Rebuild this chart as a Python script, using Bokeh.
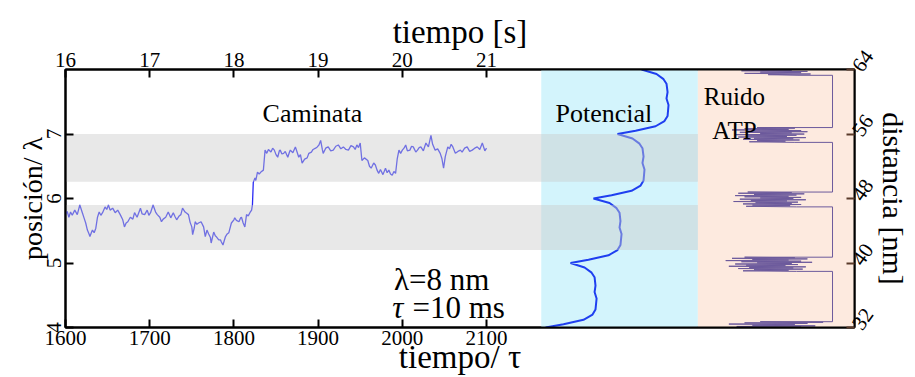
from bokeh.plotting import figure
from bokeh.models import Range1d, LinearAxis, FixedTicker
from bokeh.core.properties import value
from bokeh.embed import file_html
from bokeh.resources import INLINE
import numpy as np

SERIF = "Liberation Serif"

# ---------------- data ----------------
# walk trajectory: time (tau units) and position (lambda units)
tau = [1600,1602,1604,1606,1608,1611,1614,1617,1620,1622,
       1624,1626,1628,1629,1631,1632,1634,1636,1638,1640,
       1642,1644,1647,1649,1651,1653,1656,1659,1662,1665,
       1668,1670,1672,1674,1677,1680,1682,1685,1689,1691,
       1694,1697,1699,1701,1704,1707,1709,1712,1714,1716,
       1719,1722,1725,1728,1730,1732,1735,1737,1739,1742,
       1744,1746,1748,1750,1751,1753,1754,1756,1758,1761,
       1764,1766,1768,1770,1772,1773,1776,1778,1779,1782,
       1784,1785,1787,1790,1792,1794,1797,1800,1801,1803,
       1806,1808,1809,1811,1813,1815,1817,1819,1821,1822,
       1823,1825,1826,1828,1830,1832,1835,1837,1839,1841,
       1844,1846,1848,1850,1852,1854,1855,1857,1859,1861,
       1864,1866,1867,1870,1873,1875,1877,1879,1881,1884,
       1887,1889,1892,1894,1897,1899,1901,1903,1905,1906,
       1909,1912,1915,1918,1921,1924,1927,1930,1933,1936,
       1939,1942,1944,1946,1948,1950,1952,1955,1959,1961,
       1963,1966,1968,1970,1972,1974,1977,1980,1982,1984,
       1986,1988,1990,1992,1994,1996,1998,2000,2002,2004,
       2006,2009,2011,2013,2016,2018,2020,2022,2025,2028,
       2031,2034,2036,2039,2042,2045,2047,2049,2051,2054,
       2056,2058,2060,2063,2066,2069,2071,2074,2077,2080,
       2083,2086,2089,2092,2095,2098,2100]
pos = [5.75,5.80,5.71,5.79,5.74,5.82,5.75,5.90,5.78,5.70,
       5.62,5.51,5.45,5.41,5.48,5.51,5.47,5.54,5.71,5.79,
       5.74,5.78,5.87,5.83,5.90,5.82,5.85,5.78,5.82,5.75,
       5.67,5.56,5.62,5.64,5.71,5.68,5.78,5.71,5.85,5.76,
       5.75,5.82,5.74,5.78,5.90,5.79,5.75,5.71,5.64,5.68,
       5.71,5.79,5.70,5.78,5.72,5.67,5.73,5.75,5.85,5.79,
       5.77,5.75,5.63,5.56,5.44,5.55,5.64,5.60,5.62,5.64,
       5.56,5.41,5.51,5.45,5.40,5.31,5.48,5.42,5.41,5.36,
       5.36,5.33,5.28,5.41,5.45,5.47,5.62,5.67,5.70,5.66,
       5.64,5.70,5.71,5.62,5.56,5.75,5.73,5.78,5.82,5.90,
       6.25,6.32,6.28,6.41,6.38,6.41,6.44,6.75,6.70,6.76,
       6.72,6.78,6.75,6.68,6.64,6.74,6.75,6.69,6.70,6.73,
       6.64,6.72,6.75,6.71,6.80,6.72,6.64,6.68,6.55,6.61,
       6.63,6.70,6.72,6.76,6.78,6.80,6.83,6.90,6.76,6.70,
       6.78,6.80,6.74,6.75,6.81,6.83,6.77,6.80,6.76,6.75,
       6.82,6.80,6.76,6.83,6.79,6.86,6.59,6.63,6.59,6.50,
       6.47,6.55,6.52,6.44,6.39,6.45,6.37,6.47,6.40,6.44,
       6.38,6.36,6.42,6.39,6.62,6.75,6.70,6.75,6.78,6.83,
       6.74,6.75,6.81,6.80,6.72,6.75,6.79,6.80,6.74,6.86,
       6.80,6.98,6.84,6.75,6.77,6.70,6.62,6.47,6.65,6.80,
       6.77,6.84,6.80,6.70,6.73,6.75,6.72,6.78,6.80,6.73,
       6.75,6.78,6.80,6.76,6.86,6.74,6.78]

# tilted periodic potential: position (lambda) and energy (arb. units)
pot_y = [4.00,4.05,4.12,4.20,4.28,4.45,4.55,4.65,4.78,4.85,4.93,
         5.00,5.05,5.12,5.20,5.28,5.45,5.55,5.65,5.78,5.85,5.93,
         6.00,6.05,6.12,6.20,6.28,6.45,6.55,6.65,6.78,6.85,6.93,
         7.00,7.05,7.12,7.20,7.28,7.45,7.55,7.65,7.78,7.85,7.93,
         8.00]
pot_u = [2.6,14.1,26.9,32.7,34.6,35.3,34.0,34.6,34.0,32.1,27.6,
         18.6,30.1,42.9,48.7,50.6,51.3,50.0,50.6,50.0,48.1,43.6,
         33.3,44.9,57.7,63.5,65.4,66.0,64.7,65.4,64.7,62.8,58.3,
         48.7,60.3,73.1,78.8,80.8,81.4,80.1,80.8,80.1,78.2,73.7,
         64.1]

# ATP noise bursts (amplitude, arb. units) at each site, top to bottom
burst_top = [8.00, 7.10, 6.10, 5.09, 4.09]
burst_bot = [7.91, 6.87, 5.87, 4.87, 3.97]
burst_amp = [
    [35, 60, 28, 70, 40, 66, 30, 72, 45, 64],
    [38, 62, 30, 58, 22, 66, 34, 70, 27, 60, 40, 68, 24, 63, 32, 57, 26, 69, 36, 61, 29, 65, 38, 56, 33, 62],
    [32, 60, 26, 68, 36, 63, 24, 58, 30, 66, 40, 61, 27, 69, 34, 57, 23, 64, 37, 60, 29, 66, 35, 59, 31, 63],
    [30, 62, 22, 70, 35, 58, 18, 66, 28, 73, 38, 60, 24, 64, 31, 56, 20, 69, 33, 61, 26, 67, 36, 58, 29, 63],
    [40, 80, 30, 70, 20, 62, 35, 75, 25, 66, 16, 58, 38, 72],
]
atp_rest = 86  # level of the trace between bursts

# panels and bands
pot_panel = [2165, 2351]
atp_panel = [2351, 2537]
band_bottom = [5.20, 6.26]
band_top = [5.90, 7.00]

tau_ticks = [1600, 1700, 1800, 1900, 2000, 2100]
sec_ticks = [16, 17, 18, 19, 20, 21]
pos_ticks = [4, 5, 6, 7]
nm_ticks = [32, 40, 48, 56, 64]

# ---------------- figure ----------------
p = figure(width=915, height=377, x_range=Range1d(1600, 2537), y_range=Range1d(4, 8),
           output_backend="svg", toolbar_location=None,
           min_border_left=65, min_border_right=61, min_border_top=69, min_border_bottom=49)
p.extra_x_ranges = {"s": Range1d(16, 25.37), "U": Range1d(-305.1, 200.6), "A": Range1d(-402.5, 100)}
p.extra_y_ranges = {"nm": Range1d(32, 64)}
p.xgrid.visible = False
p.ygrid.visible = False
p.outline_line_color = "black"
p.outline_line_width = 2
p.background_fill_color = "white"
p.border_fill_color = "white"


def style(ax, label_size):
    ax.axis_line_width = 2
    ax.axis_line_color = "black"
    ax.major_tick_in = 8
    ax.major_tick_out = 0
    ax.major_tick_line_width = 2
    ax.major_tick_line_color = "black"
    ax.minor_tick_line_color = None
    ax.major_label_text_font = SERIF
    ax.major_label_text_font_size = "21px"
    ax.major_label_text_color = "black"
    ax.axis_label_text_font = SERIF
    ax.axis_label_text_font_size = label_size
    ax.axis_label_text_font_style = "normal"
    ax.axis_label_text_color = "black"


xb = p.xaxis[0]
style(xb, "33px")
xb.ticker = FixedTicker(ticks=tau_ticks)
xb.axis_label = "tiempo/ τ"
xb.major_label_standoff = 3
xb.axis_label_standoff = -9

yl = p.yaxis[0]
style(yl, "28px")
yl.ticker = FixedTicker(ticks=pos_ticks)
yl.axis_label = "posición/ λ"
yl.major_label_orientation = "vertical"
yl.major_label_standoff = 5
yl.axis_label_standoff = -4

xt = LinearAxis(x_range_name="s", ticker=FixedTicker(ticks=sec_ticks), axis_label="tiempo [s]")
style(xt, "33px")
xt.major_label_standoff = 3
xt.axis_label_standoff = 0
p.add_layout(xt, "above")

yr = LinearAxis(y_range_name="nm", ticker=FixedTicker(ticks=nm_ticks), axis_label="distancia [nm]")
style(yr, "30px")
yr.major_tick_line_color = "#5a3a2a"
yr.major_label_orientation = 0.95
yr.major_label_standoff = 2
yr.axis_label_standoff = -6
p.add_layout(yr, "right")

# panel backgrounds
p.quad(left=[pot_panel[0]], right=[pot_panel[1]], bottom=[4], top=[8],
       fill_color="#d3f4fc", line_color=None)
p.quad(left=[atp_panel[0]], right=[atp_panel[1]], bottom=[4], top=[8],
       fill_color="#fdeadf", line_color=None)

# potential
p.line(x=pot_u, y=pot_y, x_range_name="U", line_color="#1f3ff0", line_width=2)

# trajectory
p.line(x=tau, y=pos, line_color="#2a2af5", line_width=1.3)

# ATP noise trace
atp_x, atp_y = [], []
for i, amps in enumerate(burst_amp):
    ys = np.linspace(burst_top[i], burst_bot[i], len(amps))
    atp_x.extend(amps)
    atp_y.extend(ys.tolist())
    if i < len(burst_amp) - 1:
        atp_x.extend([atp_rest, atp_rest])
        atp_y.extend([burst_bot[i], burst_top[i + 1]])
p.line(x=atp_x, y=atp_y, x_range_name="A", line_color="#6c5a9c", line_width=1)

# shaded site bands (over walk and potential)
p.quad(left=[1600, 1600], right=[pot_panel[1], pot_panel[1]], bottom=band_bottom, top=band_top,
       fill_color="#cbcbcb", fill_alpha=0.44, line_color=None)

# texts
p.text(x=[1834, 2182], y=[7.32, 7.32], text=["Caminata", "Potencial"],
       text_font=value(SERIF), text_font_size="26px", text_color="black",
       text_align="left", text_baseline="alphabetic")
p.text(x=[2358, 2368], y=[7.58, 7.06], text=["Ruido", "ATP"],
       text_font=value(SERIF), text_font_size="25px", text_color="black",
       text_align="left", text_baseline="alphabetic")
p.text(x=[1990, 2012], y=[4.74, 4.31], text=["λ=8 nm", "=10 ms"],
       text_font=value(SERIF), text_font_size="31px", text_color="black",
       text_align="left", text_baseline="alphabetic")
p.text(x=[1988], y=[4.31], text=["τ"],
       text_font=value(SERIF), text_font_size="31px", text_font_style="italic",
       text_color="black", text_align="left", text_baseline="alphabetic")

open("out.html", "w").write(file_html(p, INLINE))
